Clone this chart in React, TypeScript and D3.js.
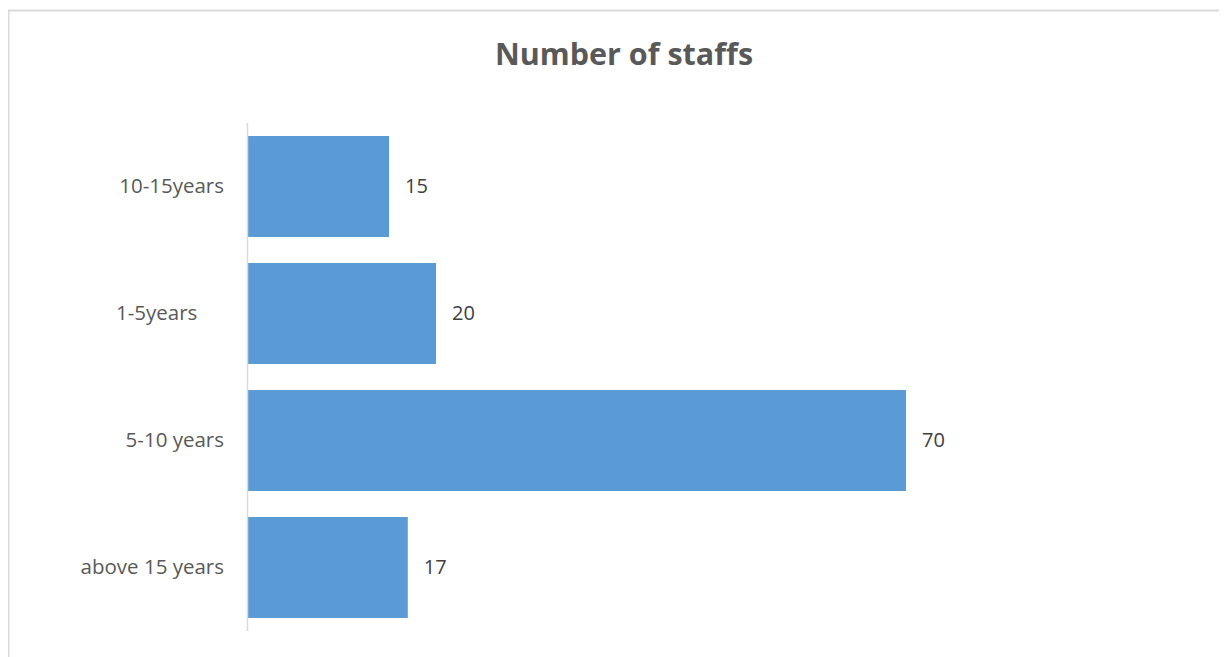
import React from "react";
import * as d3 from "d3";

const categories = ["10-15years", "1-5years     ", "5-10 years", "above 15 years"];
const values = [15, 20, 70, 17];
const title = "Number of staffs";

const W = 1219;
const H = 649;
const left = 240;
const top = 115;
const bottom = 623;

export default function App() {
  const x = d3.scaleLinear().domain([0, 70]).range([left, left + 658]);
  const y = d3.scaleBand().domain(categories).range([top, bottom]).paddingInner(0.205).paddingOuter(0.1025);
  const font = "'Open Sans', sans-serif";
  return (
    <svg width={W} height={H} style={{ display: "block" }}>
      <rect x={0} y={0} width={W} height={H} fill="#fff" />
      <line x1={0.5} y1={2} x2={0.5} y2={H} stroke="#d9d9d9" strokeWidth={2} />
      <line x1={0} y1={2.5} x2={W} y2={2.5} stroke="#d9d9d9" strokeWidth={2} />
      <text x={616} y={49} textAnchor="middle" dominantBaseline="middle" fontFamily={font} fontWeight="bold" fontSize={30.5} fill="#595959">
        {title}
      </text>
      {categories.map((c, i) => (
        <g key={c}>
          <rect x={x(0)} y={y(c)!} width={x(values[i]) - x(0)} height={y.bandwidth()} fill="#5b9bd5" />
          <text x={x(values[i]) + 16} y={y(c)! + y.bandwidth() / 2 + 1} dominantBaseline="middle" fontFamily={font} fontSize={20} fill="#404040">
            {values[i]}
          </text>
          <text x={216} y={y(c)! + y.bandwidth() / 2 + 1} textAnchor="end" dominantBaseline="middle" fontFamily={font} fontSize={20.5} fill="#595959" style={{ whiteSpace: "pre" }}>
            {c}
          </text>
        </g>
      ))}
      <line x1={x(0) - 0.5} y1={top} x2={x(0) - 0.5} y2={bottom} stroke="#d9d9d9" strokeWidth={1.5} />
    </svg>
  );
}
